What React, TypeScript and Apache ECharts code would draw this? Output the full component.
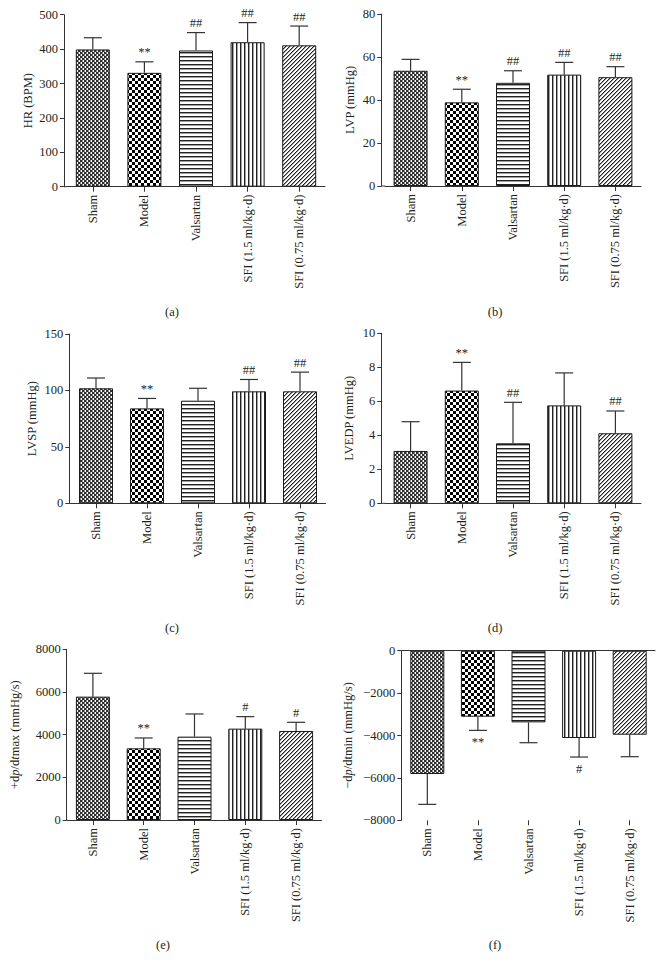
import React, { useEffect, useRef } from 'react';
import * as echarts from 'echarts';

const categories = ['Sham', 'Model', 'Valsartan', 'SFI (1.5 ml/kg·d)', 'SFI (0.75 ml/kg·d)'];

const hrMean = [399, 331, 396, 420, 411];
const hrSd = [34, 32, 52, 57, 56];
const hrMarks = ['', '**', '##', '##', '##'];

const lvpMean = [53.6, 38.9, 48, 51.8, 50.6];
const lvpSd = [5.3, 6.1, 5.6, 5.7, 4.9];
const lvpMarks = ['', '**', '##', '##', '##'];

const lvspMean = [101.9, 84.1, 90.9, 99.2, 99.2];
const lvspSd = [9.1, 8.8, 11, 10.5, 17];
const lvspMarks = ['', '**', '', '##', '##'];

const lvedpMean = [3.08, 6.63, 3.53, 5.76, 4.12];
const lvedpSd = [1.72, 1.66, 2.41, 1.91, 1.31];
const lvedpMarks = ['', '**', '##', '', '##'];

const dpMaxMean = [5781, 3359, 3906, 4281, 4172];
const dpMaxSd = [1094, 485, 1063, 563, 406];
const dpMaxMarks = ['', '**', '', '#', '#'];

const dpMinMean = [-5817, -3113, -3380, -4119, -3962];
const dpMinSd = [1431, 645, 960, 897, 1038];
const dpMinMarks = ['', '**', '', '#', ''];

const FONT = '"Liberation Serif", "Times New Roman", serif';
const TXT = '#231f20';
const AX = '#333';
const FS = 12.5;

function tile(w: number, h: number, draw: (ctx: CanvasRenderingContext2D) => void) {
  const c = document.createElement('canvas');
  c.width = w;
  c.height = h;
  const ctx = c.getContext('2d') as CanvasRenderingContext2D;
  ctx.fillStyle = '#fff';
  ctx.fillRect(0, 0, w, h);
  draw(ctx);
  return { image: c, repeat: 'repeat', imageWidth: w, imageHeight: h };
}

function makePatterns() {
  const sham = tile(4, 4, (c) => {
    c.fillStyle = '#2e2e2e';
    c.fillRect(0, 0, 2, 2);
    c.fillRect(2, 2, 2, 2);
    c.fillStyle = '#8a8a8a';
    c.fillRect(2, 0, 1, 2);
    c.fillRect(0, 2, 1, 2);
  });
  const model = tile(6, 6, (c) => {
    c.fillStyle = '#000';
    c.fillRect(0, 0, 3, 3);
    c.fillRect(3, 3, 3, 3);
  });
  const hor = tile(4, 4, (c) => {
    c.fillStyle = '#222';
    c.fillRect(0, 0, 4, 1);
    c.fillStyle = '#a0a0a0';
    c.fillRect(0, 1, 4, 1);
  });
  const ver = tile(4, 4, (c) => {
    c.fillStyle = '#222';
    c.fillRect(0, 0, 1, 4);
    c.fillStyle = '#a0a0a0';
    c.fillRect(1, 0, 1, 4);
  });
  const diag = tile(4, 4, (c) => {
    for (let x = 0; x < 4; x++) {
      c.fillStyle = '#222';
      c.fillRect(x, 3 - x, 1, 1);
      c.fillStyle = '#9a9a9a';
      c.fillRect(x, (4 - x) % 4, 1, 1);
    }
  });
  return [sham, model, hor, ver, diag];
}

type Panel = {
  mean: number[];
  sd: number[];
  marks: string[];
  min: number;
  max: number;
  interval: number;
  name: string;
  rich?: boolean;
  nameGap: number;
  axisX: number;
  left: number;
  top: number;
  width: number;
  height: number;
  cap: [number, number, string];
  neg?: boolean;
};

const panels: Panel[] = [
  { mean: hrMean, sd: hrSd, marks: hrMarks, min: 0, max: 500, interval: 100, name: 'HR (BPM)', nameGap: 30, axisX: 64, left: 67, top: 14.7, width: 258, height: 172, cap: [172, 312, '(a)'] },
  { mean: lvpMean, sd: lvpSd, marks: lvpMarks, min: 0, max: 80, interval: 20, name: 'LVP (mmHg)', nameGap: 25, axisX: 381.3, left: 385, top: 14, width: 256, height: 172, cap: [495, 312, '(b)'] },
  { mean: lvspMean, sd: lvspSd, marks: lvspMarks, min: 0, max: 150, interval: 50, name: 'LVSP (mmHg)', nameGap: 31, axisX: 69.3, left: 70.5, top: 334, width: 255, height: 169.3, cap: [172, 628, '(c)'] },
  { mean: lvedpMean, sd: lvedpSd, marks: lvedpMarks, min: 0, max: 10, interval: 2, name: 'LVEDP (mmHg)', nameGap: 26, axisX: 381.3, left: 385, top: 333.3, width: 256, height: 170, cap: [495, 628, '(d)'] },
  { mean: dpMaxMean, sd: dpMaxSd, marks: dpMaxMarks, min: 0, max: 8000, interval: 2000, name: '{n|+d}{i|p}{n|/d}{i|t}{n|max (mmHg/s)}', rich: true, nameGap: 45, axisX: 66.7, left: 67.5, top: 649.3, width: 254, height: 170.7, cap: [163, 945, '(e)'] },
  { mean: dpMinMean, sd: dpMinSd, marks: dpMinMarks, min: -8000, max: 0, interval: 2000, name: '{n|−d}{i|p}{n|/dtmin (mmHg/s)}', rich: true, nameGap: 47, axisX: 401.3, left: 402, top: 650.7, width: 253, height: 169.6, cap: [495, 945, '(f)'], neg: true },
];

function buildOption() {
  const patterns = makePatterns();
  const grid: any[] = [];
  const xAxis: any[] = [];
  const yAxis: any[] = [];
  const series: any[] = [];
  const graphic: any[] = [];
  const txt = { fontFamily: FONT, fontSize: FS, color: TXT };

  panels.forEach((p, gi) => {
    grid.push({ left: p.left, top: p.top, width: p.width, height: p.height, containLabel: false });
    const xi = xAxis.length;
    xAxis.push({
      type: 'category',
      gridIndex: gi,
      data: categories,
      position: 'bottom',
      axisLine: { show: !p.neg, onZero: false, lineStyle: { color: AX, width: 1 } },
      axisTick: { show: true, alignWithLabel: true, length: 5, lineStyle: { color: AX, width: 1 } },
      axisLabel: { rotate: 90, margin: 8, interval: 0, ...txt },
      splitLine: { show: false },
    });
    if (p.neg) {
      xAxis.push({
        type: 'category',
        gridIndex: gi,
        data: categories,
        position: 'top',
        axisLine: { show: true, onZero: false, lineStyle: { color: AX, width: 1 } },
        axisTick: { show: false },
        axisLabel: { show: false },
        splitLine: { show: false },
      });
    }
    yAxis.push({
      type: 'value',
      gridIndex: gi,
      min: p.min,
      max: p.max,
      interval: p.interval,
      offset: p.left - p.axisX,
      name: p.name,
      nameLocation: 'middle',
      nameGap: p.nameGap,
      nameTextStyle: {
        ...txt,
        rich: p.rich
          ? {
              n: { ...txt },
              i: { ...txt, fontStyle: 'italic' },
            }
          : undefined,
      },
      axisLine: { show: true, lineStyle: { color: AX, width: 1 } },
      axisTick: { show: true, length: 4, lineStyle: { color: AX, width: 1 } },
      axisLabel: { margin: 6, ...txt, formatter: (v: number) => String(v).replace('-', '−') },
      splitLine: { show: false },
    });
    series.push({
      type: 'bar',
      xAxisIndex: xi,
      yAxisIndex: gi,
      barWidth: 34,
      silent: true,
      data: p.mean.map((v, i) => ({
        value: v,
        itemStyle: { color: patterns[i], borderColor: '#1a1a1a', borderWidth: 1 },
      })),
      emphasis: { disabled: true },
    });
    const marks = p.marks;
    series.push({
      type: 'custom',
      xAxisIndex: xi,
      yAxisIndex: gi,
      silent: true,
      z: 5,
      color: TXT,
      itemStyle: { color: TXT },
      encode: { x: 0, y: 1 },
      data: p.mean.map((m, i) => [i, m, m + (m < 0 ? -1 : 1) * p.sd[i]]),
      renderItem: (params: any, api: any) => {
        const i = api.value(0);
        const m = api.value(1);
        const e = api.value(2);
        const a = api.coord([i, m]);
        const b = api.coord([i, e]);
        const neg = m < 0;
        const mark = marks[params.dataIndex];
        const children: any[] = [
          { type: 'line', shape: { x1: a[0], y1: a[1], x2: b[0], y2: b[1] }, style: { stroke: AX, lineWidth: 1.2 } },
          { type: 'line', shape: { x1: b[0] - 9, y1: b[1], x2: b[0] + 9, y2: b[1] }, style: { stroke: AX, lineWidth: 1.2 } },
        ];
        if (mark) {
          children.push({
            type: 'text',
            style: {
              text: mark,
              x: b[0],
              y: neg ? b[1] + 5 : b[1] - 3,
              fill: TXT,
              textFill: TXT,
              fontFamily: FONT,
              fontSize: 12.5,
              textAlign: 'center',
              align: 'center',
              textVerticalAlign: neg ? 'top' : 'bottom',
              verticalAlign: neg ? 'top' : 'bottom',
            },
          });
        }
        return { type: 'group', children };
      },
    });
    // close corner gap between offset y-axis and x-axis line
    const yLine = p.neg ? p.top : p.top + p.height;
    graphic.push({
      type: 'line',
      shape: { x1: p.axisX, y1: yLine, x2: p.left, y2: yLine },
      style: { stroke: AX, lineWidth: 1 },
      silent: true,
    });
    graphic.push({
      type: 'text',
      x: p.cap[0],
      y: p.cap[1],
      style: {
        text: p.cap[2],
        fill: TXT,
        fontFamily: FONT,
        fontSize: 12.5,
        textAlign: 'center',
        align: 'center',
        textVerticalAlign: 'middle',
        verticalAlign: 'middle',
      },
      silent: true,
    });
  });

  return {
    animation: false,
    backgroundColor: '#fff',
    color: [TXT],
    grid,
    xAxis,
    yAxis,
    series,
    graphic,
  };
}

export default function App() {
  const ref = useRef<HTMLDivElement>(null);
  useEffect(() => {
    if (!ref.current) return;
    const chart = echarts.init(ref.current, undefined, { renderer: 'svg' });
    chart.setOption(buildOption() as any);
    return () => chart.dispose();
  }, []);
  return (
    <div
      ref={ref}
      style={{ position: 'absolute', left: 0, top: 0, width: 664, height: 971, background: '#fff' }}
    />
  );
}
